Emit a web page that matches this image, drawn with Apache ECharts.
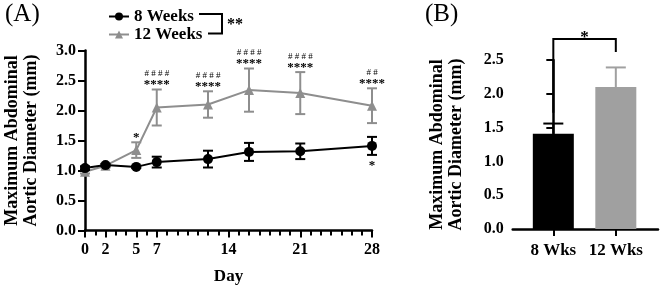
<!DOCTYPE html>
<html><head><meta charset="utf-8">
<script src="https://cdn.jsdelivr.net/npm/echarts@6/dist/echarts.min.js"></script>
<style>html,body{margin:0;padding:0;background:#fff}#c{width:660px;height:289px}</style>
</head><body><div id="c"></div>
<script>
// ---- data ----
const days = [0, 2, 5, 7, 12, 16, 21, 28];
const mean8 = [1.04, 1.09, 1.06, 1.14, 1.19, 1.31, 1.32, 1.41];
const err8 = [0.03, 0.02, 0.02, 0.09, 0.14, 0.15, 0.13, 0.15];
const mean12 = [0.98, 1.08, 1.34, 2.05, 2.10, 2.34, 2.29, 2.08];
const err12 = [0.03, 0.03, 0.13, 0.30, 0.22, 0.36, 0.35, 0.29];
const dayTicks = [0, 2, 5, 7, 14, 21, 28];
const hashMarks12 = ['', '', '', '####', '####', '####', '####', '##'];
const starMarks12 = ['', '', '*', '****', '****', '****', '****', '****'];
const starMarks8 = ['', '', '', '', '', '', '', '*'];
const groups = ['8 Wks', '12 Wks'];
const groupMeans = [1.41, 2.10];
const groupErrs = [0.15, 0.29];
const bracketB = { leftFoot: 1.72, top: 2.81, rightFoot: 2.62, label: '*' };

const FONT = '"Liberation Serif", serif';
const BLACK = '#000';
const GRAY = '#8e8e8e';
const BARGRAY = '#a0a0a0';

function errRender(color, cap, upOnly) {
  return function (params, api) {
    const x = api.value(0), m = api.value(1), e = api.value(2);
    const top = api.coord([x, m + e]);
    const bot = api.coord([x, upOnly ? m : m - e]);
    const w = cap / 2;
    const st = { stroke: color, lineWidth: 2 };
    const ch = [
      { type: 'line', shape: { x1: top[0], y1: top[1], x2: bot[0], y2: bot[1] }, style: st },
      { type: 'line', shape: { x1: top[0] - w, y1: top[1], x2: top[0] + w, y2: top[1] }, style: st }
    ];
    if (!upOnly) ch.push({ type: 'line', shape: { x1: bot[0] - w, y1: bot[1], x2: bot[0] + w, y2: bot[1] }, style: st });
    return { type: 'group', children: ch };
  };
}

const d8 = days.map((d, i) => [d, mean8[i], err8[i]]);
const d12 = days.map((d, i) => [d, mean12[i], err12[i]]);
const annoData = days.map((d, i) => [d, mean12[i] + err12[i], mean8[i] - err8[i], i]);

const chart = echarts.init(document.getElementById('c'), null, { renderer: 'canvas' });
chart.setOption({
  animation: false,
  backgroundColor: '#fff',
  textStyle: { fontFamily: FONT },
  grid: [
    { left: 85, top: 50.5, width: 287, height: 180, outerBoundsMode: 'none', containLabel: false },
    { left: 512.7, top: 60, width: 145.3, height: 169, outerBoundsMode: 'none', containLabel: false }
  ],
  legend: {
    orient: 'vertical', left: 103, top: 3, itemGap: 1,
    itemWidth: 20, itemHeight: 10,
    textStyle: { fontFamily: FONT, fontWeight: 'bold', fontSize: 17, color: '#000' },
    data: ['8 Weeks', '12 Weeks']
  },
  xAxis: [
    {
      gridIndex: 0, type: 'value', min: 0, max: 28, interval: 1,
      name: 'Day', nameLocation: 'middle', nameGap: 38,
      nameTextStyle: { fontFamily: FONT, fontWeight: 'bold', fontSize: 17, color: '#000' },
      axisLine: { lineStyle: { color: '#000', width: 2.5 } },
      axisTick: { length: 5, lineStyle: { color: '#000', width: 2 } },
      axisLabel: {
        margin: 11, fontFamily: FONT, fontWeight: 'bold', fontSize: 16, color: '#000',
        formatter: v => (dayTicks.indexOf(v) >= 0 ? String(v) : '')
      },
      splitLine: { show: false }
    },
    {
      gridIndex: 0, type: 'value', min: 0, max: 28, position: 'bottom',
      axisLine: { show: false },
      axisTick: { show: true, length: 7, customValues: dayTicks, lineStyle: { color: '#000', width: 2 } },
      axisLabel: { show: false },
      splitLine: { show: false }
    },
    {
      gridIndex: 1, type: 'value', min: -0.65, max: 1.675,
      axisLine: { lineStyle: { color: '#000', width: 2.5 } },
      axisTick: { length: 7, customValues: [0, 1], lineStyle: { color: '#000', width: 2 } },
      axisLabel: {
        margin: 13, customValues: [0, 1], fontFamily: FONT, fontWeight: 'bold', fontSize: 17, color: '#000',
        formatter: v => groups[Math.round(v)]
      },
      splitLine: { show: false }
    }
  ],
  yAxis: [
    {
      gridIndex: 0, type: 'value', min: 0, max: 3, interval: 0.5,
      name: 'Maximum Abdominal\nAortic Diameter (mm)', nameLocation: 'middle', nameGap: 44,
      nameTextStyle: { fontFamily: FONT, fontWeight: 'bold', fontSize: 18, lineHeight: 19, color: '#000' },
      axisLine: { show: true, lineStyle: { color: '#000', width: 2.5 } },
      axisTick: { show: true, length: 7, lineStyle: { color: '#000', width: 2 } },
      axisLabel: { margin: 9, fontFamily: FONT, fontWeight: 'bold', fontSize: 16, color: '#000', formatter: v => v.toFixed(1) },
      splitLine: { show: false }
    },
    {
      gridIndex: 1, type: 'value', min: 0, max: 2.5, interval: 0.5,
      name: 'Maximum Abdominal\nAortic Diameter (mm)', nameLocation: 'middle', nameGap: 47,
      nameTextStyle: { fontFamily: FONT, fontWeight: 'bold', fontSize: 18, lineHeight: 19, color: '#000' },
      axisLine: { show: true, lineStyle: { color: '#000', width: 2.5 } },
      axisTick: { show: true, length: 7, lineStyle: { color: '#000', width: 2 } },
      axisLabel: { margin: 9, fontFamily: FONT, fontWeight: 'bold', fontSize: 16, color: '#000', formatter: v => v.toFixed(1) },
      splitLine: { show: false }
    }
  ],
  series: [
    { type: 'custom', xAxisIndex: 0, yAxisIndex: 0, z: 2, data: d12, renderItem: errRender(GRAY, 10, false), silent: true },
    {
      name: '12 Weeks', type: 'line', xAxisIndex: 0, yAxisIndex: 0, z: 3,
      data: days.map((d, i) => [d, mean12[i]]),
      symbol: 'triangle', symbolSize: 10,
      lineStyle: { color: GRAY, width: 2 }, itemStyle: { color: GRAY }
    },
    { type: 'custom', xAxisIndex: 0, yAxisIndex: 0, z: 4, data: d8, renderItem: errRender(BLACK, 10, false), silent: true },
    {
      name: '8 Weeks', type: 'line', xAxisIndex: 0, yAxisIndex: 0, z: 5,
      data: days.map((d, i) => [d, mean8[i]]),
      symbol: 'circle', symbolSize: 10,
      lineStyle: { color: BLACK, width: 2 }, itemStyle: { color: BLACK }
    },
    {
      type: 'custom', xAxisIndex: 0, yAxisIndex: 0, z: 6, data: annoData, clip: false, silent: true,
      renderItem: function (params, api) {
        const i = api.value(3);
        const top = api.coord([api.value(0), api.value(1)]);
        const bot = api.coord([api.value(0), api.value(2)]);
        const ch = [];
        if (starMarks12[i]) ch.push({ type: 'text', x: top[0], y: top[1] + 2, style: { text: starMarks12[i], font: 'bold 13px "Liberation Serif"', fill: '#000', align: 'center', verticalAlign: 'bottom' } });
        if (hashMarks12[i]) ch.push({ type: 'text', x: top[0], y: top[1] - 11, style: { text: hashMarks12[i].split('').join(' '), font: '9px "Liberation Serif"', fill: '#000', align: 'center', verticalAlign: 'bottom' } });
        if (starMarks8[i]) ch.push({ type: 'text', x: bot[0], y: bot[1] + 4, style: { text: starMarks8[i], font: 'bold 13px "Liberation Serif"', fill: '#000', align: 'center', verticalAlign: 'top' } });
        return { type: 'group', children: ch };
      }
    },
    {
      type: 'bar', xAxisIndex: 2, yAxisIndex: 1, barWidth: 41, z: 3,
      data: groupMeans.map((v, i) => ({ value: [i, v], itemStyle: { color: i === 0 ? BLACK : BARGRAY } }))
    },
    {
      type: 'custom', xAxisIndex: 2, yAxisIndex: 1, z: 2, silent: true,
      data: groupMeans.map((v, i) => [i, v, groupErrs[i]]),
      renderItem: function (params, api) {
        return errRender(params.dataIndex === 0 ? BLACK : BARGRAY, 20, true)(params, api);
      }
    },
    {
      type: 'custom', xAxisIndex: 2, yAxisIndex: 1, z: 5, clip: false, silent: true,
      data: [[0, bracketB.leftFoot, 1, bracketB.rightFoot, bracketB.top]],
      renderItem: function (params, api) {
        const a = api.coord([api.value(0), api.value(1)]);
        const b = api.coord([api.value(2), api.value(3)]);
        const t = api.coord([api.value(0), api.value(4)]);
        return { type: 'group', children: [
          { type: 'polyline', shape: { points: [a, [a[0], t[1]], [b[0], t[1]], b] }, style: { stroke: '#000', lineWidth: 2, fill: null } },
          { type: 'text', x: (a[0] + b[0]) / 2, y: t[1] - 1, style: { text: bracketB.label, font: 'bold 17px "Liberation Serif"', fill: '#000', align: 'center', verticalAlign: 'middle' } }
        ] };
      }
    }
  ],
  graphic: [
    { type: 'text', left: 5, top: 2, style: { text: '(A)', font: '25px "Liberation Serif"', fill: '#000' } },
    { type: 'text', left: 425, top: 2, style: { text: '(B)', font: '25px "Liberation Serif"', fill: '#000' } },
    { type: 'polyline', shape: { points: [[199, 14], [222, 14], [222, 33.5], [208, 33.5]] }, style: { stroke: '#000', lineWidth: 2, fill: null } },
    { type: 'text', left: 227, top: 17, style: { text: '**', font: 'bold 16px "Liberation Serif"', fill: '#000' } }
  ]
});
</script></body></html>
